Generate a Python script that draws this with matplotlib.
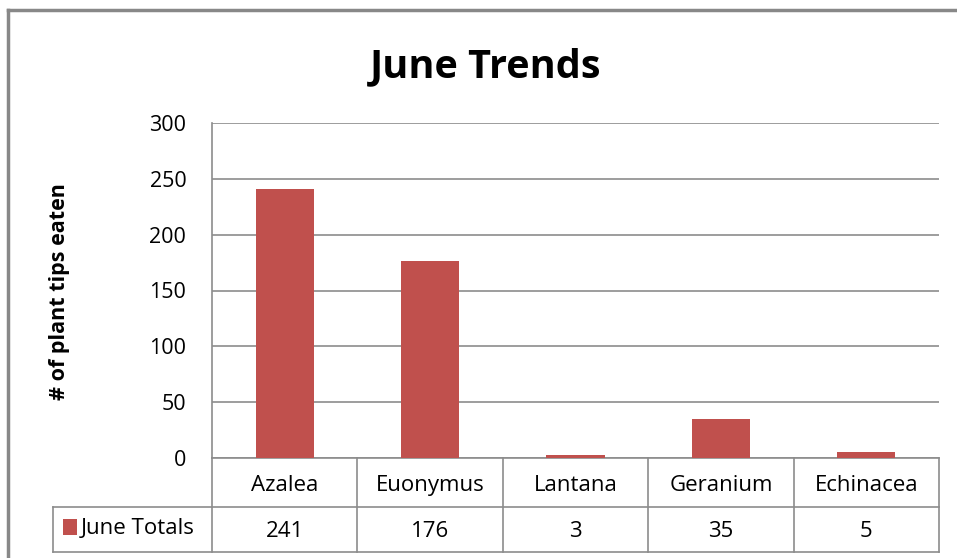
import matplotlib.pyplot as plt
from matplotlib.lines import Line2D
from matplotlib.patches import Rectangle

plt.rcParams['font.family'] = ['Open Sans', 'DejaVu Sans']

categories = ["Azalea", "Euonymus", "Lantana", "Geranium", "Echinacea"]
june_totals = [241, 176, 3, 35, 5]
series_name = "June Totals"
yticks = [0, 50, 100, 150, 200, 250, 300]

bar_color = "#C0504D"
grid_color = "#8C8C8C"

W, H = 957, 558
fig = plt.figure(figsize=(W / 100, H / 100), dpi=100)

# plot area in pixels: x 212..939, y 123..458
ax = fig.add_axes([212 / W, (H - 458) / H, 727 / W, 335 / H])

x = list(range(len(categories)))
ax.bar(x, june_totals, width=0.4, color=bar_color, zorder=3)
ax.set_xlim(-0.5, len(categories) - 0.5)
ax.set_ylim(0, 300)
ax.set_yticks(yticks)
ax.set_yticklabels([str(t) for t in yticks], fontsize=15.5)
ax.tick_params(axis='y', length=0, pad=18.5)
ax.set_xticks([])
ax.grid(axis='y', color=grid_color, linewidth=1.2, zorder=0)
for s in ['top', 'right', 'bottom']:
    ax.spines[s].set_visible(False)
ax.spines['left'].set_color(grid_color)
ax.spines['left'].set_linewidth(1.2)

# data table below the plot area (axes fraction for y)
row1 = -49 / 335
row2 = -94 / 335
legend_left = (53 - 212) / 727 * len(categories) - 0.5
tr = ax.get_xaxis_transform()
lkw = dict(color=grid_color, linewidth=1.2, transform=tr, clip_on=False)

ax.plot([-0.5, len(categories) - 0.5], [0, 0], **lkw)
ax.plot([legend_left, len(categories) - 0.5], [row1, row1], **lkw)
ax.plot([legend_left, len(categories) - 0.5], [row2, row2], **lkw)
ax.plot([legend_left, legend_left], [row1, row2], **lkw)
for i in range(len(categories) + 1):
    xi = i - 0.5
    ax.plot([xi, xi], [0, row2], **lkw)

for i, (c, v) in enumerate(zip(categories, june_totals)):
    ax.text(i, -33 / 335, c, transform=tr, ha='center', va='baseline', fontsize=16)
    ax.text(i, -79 / 335, str(v), transform=tr, ha='center', va='baseline', fontsize=16)

# legend key and series name in the table
fig.text(81 / W, (H - 534) / H, series_name, ha='left', va='baseline', fontsize=16)
fig.add_artist(Rectangle((63 / W, (H - 535) / H), 14 / W, 16 / H,
                         facecolor=bar_color, edgecolor='none', transform=fig.transFigure))

fig.text(486 / W, (H - 77) / H, "June Trends", ha='center', va='baseline',
         fontsize=28.5, fontweight='bold')
fig.text(60 / W, (H - 292) / H, "# of plant tips eaten", ha='center', va='center',
         rotation=90, fontsize=15.5, fontweight='bold')

# outer chart border
fig.add_artist(Line2D([8 / W, 8 / W], [0, (H - 10) / H], color='#888888', linewidth=2.5))
fig.add_artist(Line2D([8 / W, 1], [(H - 10) / H, (H - 10) / H], color='#888888', linewidth=2.5))

fig.savefig("out.png", dpi=100)
